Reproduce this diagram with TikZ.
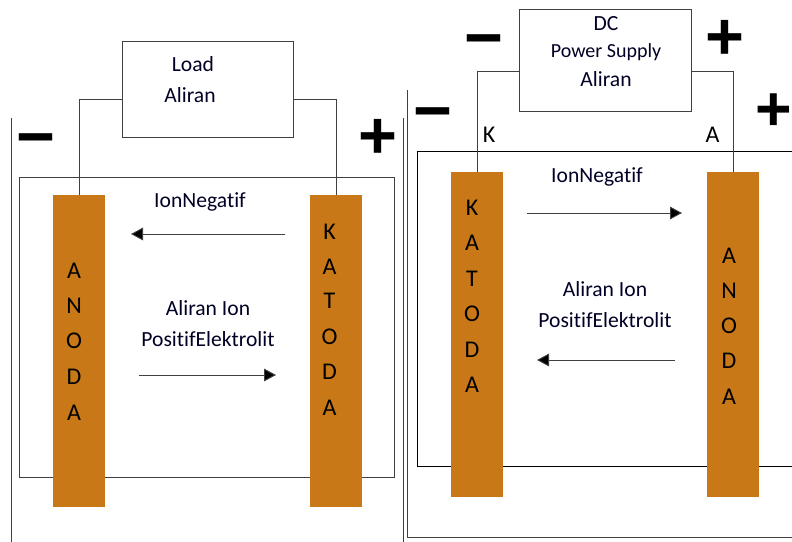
\documentclass[tikz,border=0pt]{standalone}
\usepackage{fontspec}
\setmainfont[Ligatures=NoCommon]{Carlito}
\newfontfamily\signfont[BoldFont={Liberation Sans Bold}]{Liberation Sans}
\usetikzlibrary{arrows.meta}
\definecolor{electrode}{HTML}{C87816}
\definecolor{wire}{HTML}{404040}
\tikzset{
  x=0.75pt,y=-0.75pt,
  wireline/.style={draw=wire,line width=0.7pt},
  boxnode/.style={draw=wire,line width=0.7pt,fill=white,inner sep=0pt,outer sep=0pt,anchor=north west},
  plate/.style={fill=electrode,inner sep=0pt,outer sep=0pt,minimum width=39pt,anchor=north west},
  lbl/.style={font=\fontsize{16.2pt}{18pt}\selectfont,text=black!85!blue,inner sep=0pt},
  letter/.style={font=\fontsize{18pt}{19pt}\selectfont,text=black,inner sep=0pt},
  sign/.style={font=\signfont\bfseries\fontsize{50pt}{50pt}\selectfont,inner sep=0pt},
  flow/.style={draw=wire,line width=0.7pt,-{Triangle[length=9pt,width=9.5pt,fill=black]}},
}
\begin{document}
\begin{tikzpicture}
\useasboundingbox (0,0) rectangle (792,542);
% left cell
\coordinate (lwallA) at (11,118);
\coordinate (lwallB) at (11,542);
\draw[wireline] (lwallA) -- (lwallB);
\node[boxnode,minimum width=281.25pt,minimum height=225pt] (cellL) at (19.5,177) {};
\node[boxnode,minimum width=128.25pt,minimum height=72pt] (load) at (122.5,41) {};
\node[lbl] (t1) at (193,64) {Load};
\node[lbl] (t2) at (190,95) {Aliran};
\coordinate (lw1) at (122.5,99);
\coordinate (lw2) at (293.5,99);
\node[plate,minimum height=234pt] (anodeL) at (53,195) {};
\node[plate,minimum height=234pt] (kathodeL) at (310,195) {};
\draw[wireline] (lw1) -| (anodeL.north);
\draw[wireline] (lw2) -| (kathodeL.north);
\foreach \c/\y/\n in {A/271/1,N/306/2,O/341/3,D/377/4,A/413/5}
  \node[letter] (anL\n) at (74,\y) {\c};
\foreach \c/\y/\n in {K/232/1,A/267/2,T/301/3,O/337/4,D/372/5,A/408/6}
  \node[letter] (kaL\n) at (329.5,\y) {\c};
\node[lbl] (t3) at (200,202) {IonNegatif};
\node[lbl] (t4) at (208,308) {Aliran Ion};
\node[lbl] (t5) at (208,339) {PositifElektrolit};
\coordinate (a1s) at (285,234); \coordinate (a1e) at (131,234);
\coordinate (a2s) at (139,375); \coordinate (a2e) at (276,375);
\draw[flow] (a1s) -- (a1e);
\draw[flow] (a2s) -- (a2e);
\node[sign] (s1) at (36,147) {\char"2212};
\node[sign] (s2) at (378,139) {+};
% right cell
\coordinate (rwallA) at (403.5,118);
\coordinate (rwallB) at (403.5,542);
\draw[wireline] (rwallA) -- (rwallB);
\coordinate (outA) at (407.5,90);
\coordinate (outB) at (407.5,537);
\coordinate (outC) at (792,537);
\draw[wireline] (outA) -- (outB) -- (outC);
\coordinate (cellA) at (792,151);
\coordinate (cellB) at (417,151);
\coordinate (cellC) at (417,466);
\coordinate (cellD) at (792,466);
\draw[draw=black,line width=0.55pt] (cellA) -- (cellB) -- (cellC) -- (cellD);
\node[boxnode,minimum width=129pt,minimum height=76.5pt] (dc) at (519,9) {};
\node[lbl] (r1) at (606,24) {DC};
\node[lbl,font=\fontsize{15pt}{18pt}\selectfont] (r2) at (606,52) {Power Supply};
\node[lbl] (r3) at (606,79) {Aliran};
\coordinate (rw1) at (519,71);
\coordinate (rw2) at (691,71);
\node[plate,minimum height=243.75pt] (kathodeR) at (451,172) {};
\node[plate,minimum height=243.75pt] (anodeR) at (707,172) {};
\draw[wireline] (rw1) -| (kathodeR.north);
\draw[wireline] (rw2) -| (anodeR.north);
\foreach \c/\y/\n in {K/208/1,A/243/2,T/279/3,O/314/4,D/350/5,A/385/6}
  \node[letter] (kaR\n) at (472,\y) {\c};
\foreach \c/\y/\n in {A/256/1,N/291/2,O/326/3,D/361/4,A/397/5}
  \node[letter] (anR\n) at (729,\y) {\c};
\node[letter] (r4) at (489,135) {K};
\node[letter] (r5) at (712.5,135) {A};
\node[lbl] (r6) at (597,177) {IonNegatif};
\node[lbl] (r7) at (605,289) {Aliran Ion};
\node[lbl] (r8) at (605,320) {PositifElektrolit};
\coordinate (b1s) at (527,213); \coordinate (b1e) at (682,213);
\coordinate (b2s) at (675,360); \coordinate (b2e) at (537,360);
\draw[flow] (b1s) -- (b1e);
\draw[flow] (b2s) -- (b2e);
\node[sign] (s3) at (484,48) {\char"2212};
\node[sign] (s4) at (725,40) {+};
\node[sign] (s5) at (433,121) {\char"2212};
\node[sign,font=\signfont\bfseries\fontsize{47pt}{47pt}\selectfont] (s6) at (773.5,112) {+};
\end{tikzpicture}
\end{document}
